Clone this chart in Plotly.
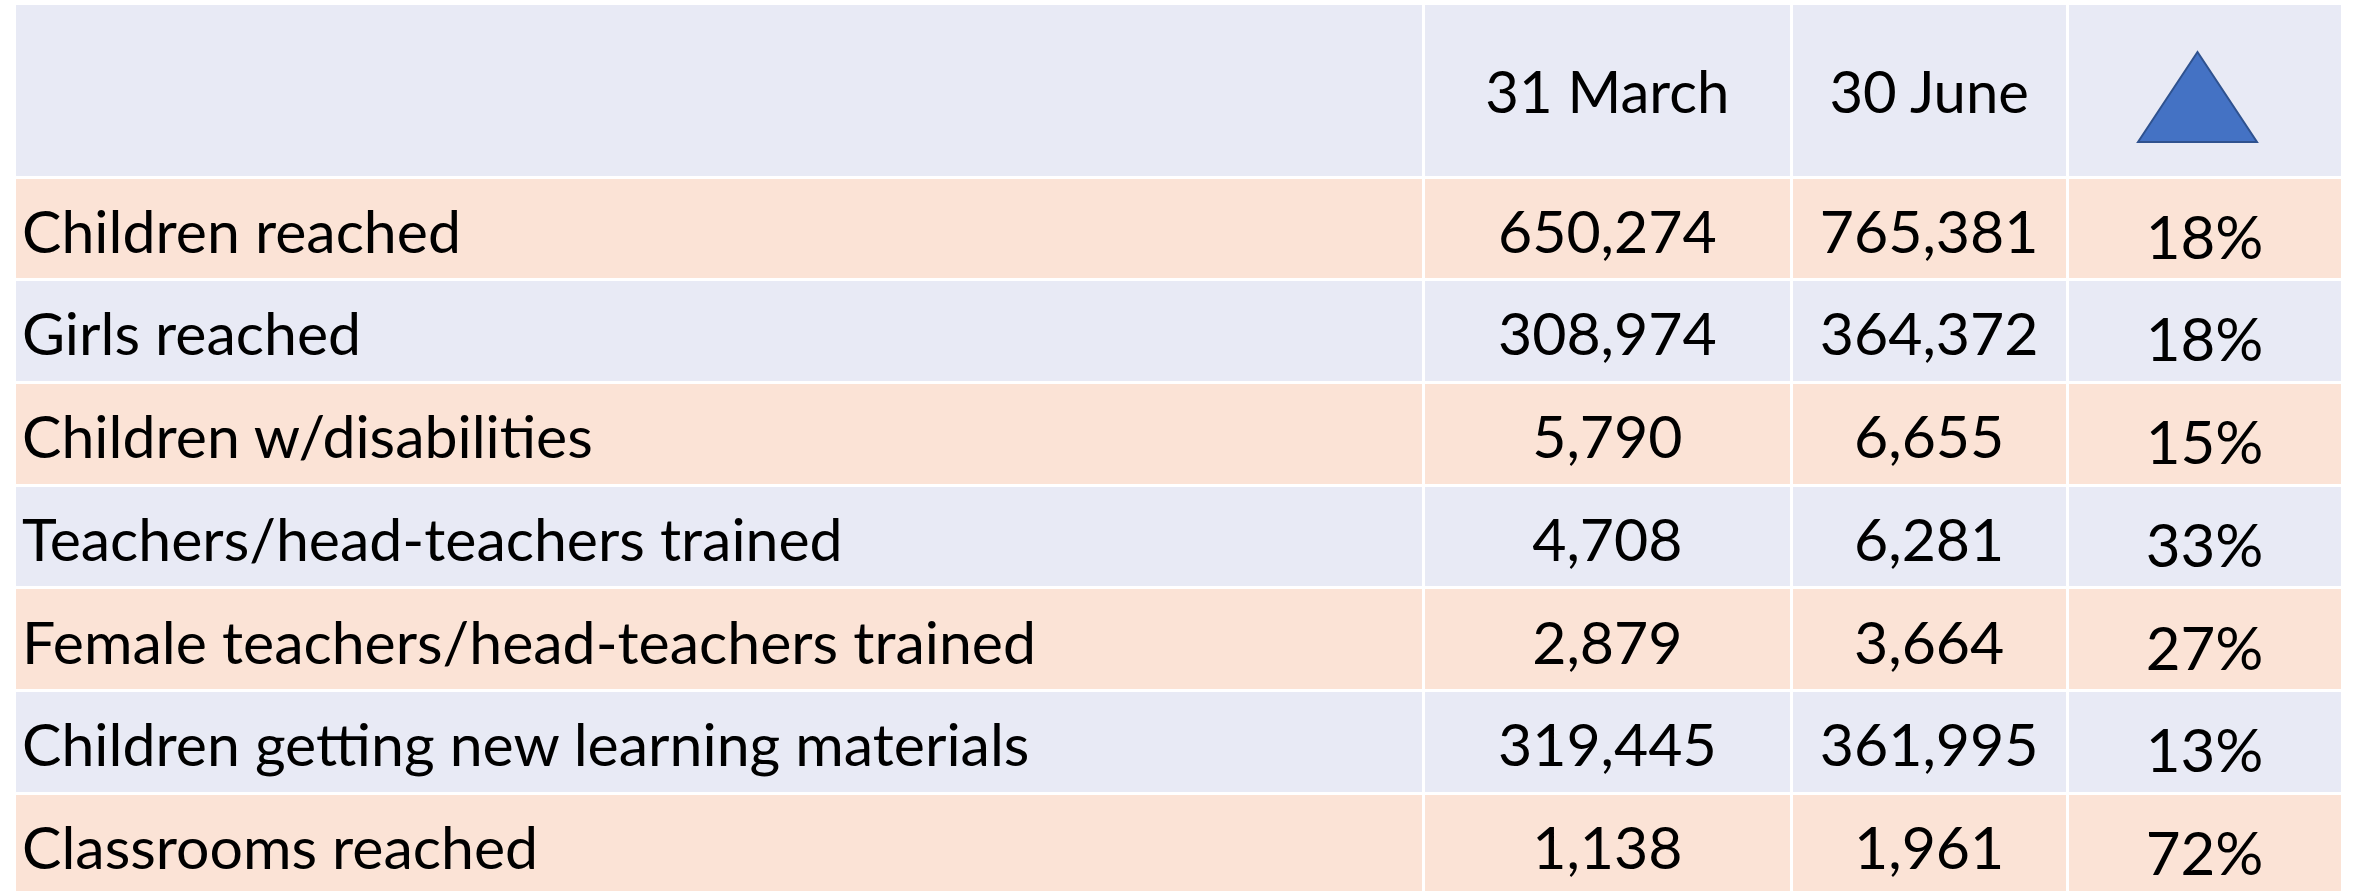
import plotly.graph_objects as go

indicators = [
    "Children reached",
    "Girls reached",
    "Children w/disabilities",
    "Teachers/head-teachers trained",
    "Female teachers/head-teachers trained",
    "Children getting new learning materials",
    "Classrooms reached",
]
march_31 = [650274, 308974, 5790, 4708, 2879, 319445, 1138]
june_30 = [765381, 364372, 6655, 6281, 3664, 361995, 1961]
change_pct = [18, 18, 15, 33, 27, 13, 72]
headers = ["", "31 March", "30 June", ""]

W, H = 2354, 891
ML, MR, MT, MB = 14, 12, 3, 0
LAV = "#E8EAF5"
PEACH = "#FBE3D6"
FONT = "Lato, Open Sans, sans-serif"


def lowered(txt, size):
    # a blank first line (in the small base font) pushes the real text down in the cell
    return f"&nbsp;<br><span style='font-size:{size}px'>{txt}</span>"


row_fill = [PEACH if i % 2 == 0 else LAV for i in range(len(indicators))]

fig = go.Figure(
    go.Table(
        columnwidth=[1410, 368, 276, 275],
        header=dict(
            values=[lowered(h, 58) if h else "" for h in headers],
            fill_color=LAV,
            line=dict(color="white", width=3),
            align=["left", "center", "center", "center"],
            font=dict(family=FONT, size=44.6, color="black"),
            height=174,
        ),
        cells=dict(
            values=[
                [lowered(s, 59) for s in indicators],
                [lowered(f"{v:,}", 59) for v in march_31],
                [lowered(f"{v:,}", 59) for v in june_30],
                [lowered(f"{v}%", 60) for v in change_pct],
            ],
            fill_color=[row_fill] * 4,
            line=dict(color="white", width=3),
            align=["left", "center", "center", "center"],
            font=dict(family=FONT, size=[29.7, 29.7, 29.7, 32.1], color="black"),
            height=102.7,
        ),
    )
)

# header triangle symbol (decoration), placed in pixel terms converted to paper coords
pw, ph = W - ML - MR, H - MT - MB
def px_x(x):
    return (x - ML) / pw
def px_y(y):
    return 1 - (y - MT) / ph

x0, x1 = px_x(2138), px_x(2257)
ytop, ybot = px_y(52), px_y(142)
fig.add_shape(
    type="path",
    xref="paper", yref="paper",
    path=f"M {x0} {ybot} L {(x0 + x1) / 2} {ytop} L {x1} {ybot} Z",
    fillcolor="#4472C4",
    line=dict(color="#2F528F", width=2),
)

fig.update_layout(
    width=W, height=H,
    margin=dict(l=ML, r=MR, t=MT, b=MB),
    paper_bgcolor="white",
    plot_bgcolor="white",
)

fig.write_html(
    "out.html",
    config={"displayModeBar": False},
    post_script="document.body.style.margin='0';",
)
